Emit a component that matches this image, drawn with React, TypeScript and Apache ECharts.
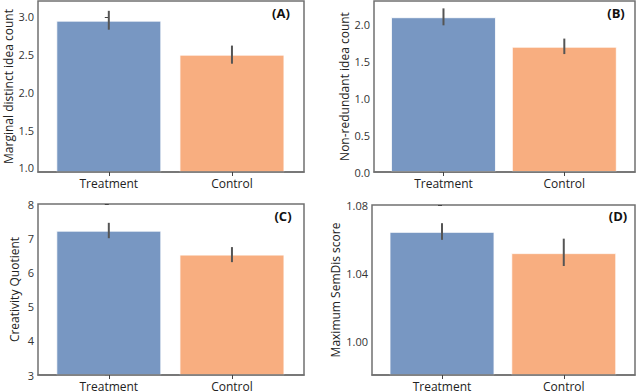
import React, { useEffect, useRef } from "react";
import * as echarts from "echarts";

const categories = ["Treatment", "Control"];

const marginalValues = [2.95, 2.5];
const marginalLow = [2.83, 2.38];
const marginalHigh = [3.08, 2.62];
const marginalTicks = [1.0, 1.5, 2.0, 2.5, 3.0];

const nonRedundantValues = [2.1, 1.7];
const nonRedundantLow = [1.99, 1.6];
const nonRedundantHigh = [2.22, 1.81];
const nonRedundantTicks = [0.0, 0.5, 1.0, 1.5, 2.0];

const cqValues = [7.22, 6.52];
const cqLow = [7.0, 6.3];
const cqHigh = [7.45, 6.74];
const cqTicks = [3, 4, 5, 6, 7, 8];

const semdisValues = [1.0642, 1.0517];
const semdisLow = [1.0595, 1.0441];
const semdisHigh = [1.0693, 1.0602];
const semdisTicks = [1.0, 1.04, 1.08];

const panelLabels = ["(A)", "(B)", "(C)", "(D)"];
const yTitles = [
  "Marginal distinct idea count",
  "Non-redundant idea count",
  "Creativity Quotient",
  "Maximum SemDis score",
];

const barColors = ["#7897c2", "#f8ae80"];
const FONT = "Open Sans";

export default function App() {
  const ref = useRef<HTMLDivElement>(null);
  useEffect(() => {
    if (!ref.current) return;
    const chart = echarts.init(ref.current, null, { renderer: "svg" });

    const panels = [
      { vals: marginalValues, low: marginalLow, high: marginalHigh, ticks: marginalTicks, min: 0.947, max: 3.21, dec: 1 },
      { vals: nonRedundantValues, low: nonRedundantLow, high: nonRedundantHigh, ticks: nonRedundantTicks, min: 0, max: 2.32, dec: 1 },
      { vals: cqValues, low: cqLow, high: cqHigh, ticks: cqTicks, min: 3, max: 8, dec: 0 },
      { vals: semdisValues, low: semdisLow, high: semdisHigh, ticks: semdisTicks, min: 0.98, max: 1.08, dec: 2 },
    ];

    const grids = [
      { left: 38, top: 1, width: 266, height: 171 },
      { left: 374, top: 1, width: 261, height: 171 },
      { left: 38, top: 204, width: 266, height: 172 },
      { left: 372, top: 205, width: 263, height: 171 },
    ];
    const nameGaps = [24, 24, 18, 31];
    const barWidths = [105, 105, 105, 105];

    const option: any = {
      animation: false,
      backgroundColor: "#ffffff",
      textStyle: { fontFamily: FONT },
      grid: grids.map((g) => ({
        ...g,
        show: true,
        borderColor: "#707070",
        borderWidth: 1.5,
        backgroundColor: "transparent",
      })),
      xAxis: panels.map((p, i) => ({
        type: "value",
        gridIndex: i,
        min: -0.575,
        max: 1.585,
        z: 10,
        splitLine: { show: false },
        axisLine: { show: true, onZero: false, lineStyle: { color: "#707070", width: 1.5 } },
        axisTick: { show: true, customValues: [0, 1], length: 4, lineStyle: { color: "#444", width: 1 } },
        axisLabel: {
          customValues: [0, 1],
          formatter: (v: number) => categories[Math.round(v)] ?? "",
          fontFamily: FONT,
          fontSize: 12,
          color: "#222",
          margin: 5,
        },
      })),
      yAxis: panels.map((p, i) => ({
        type: "value",
        gridIndex: i,
        min: p.min,
        max: p.max,
        name: yTitles[i],
        nameLocation: "middle",
        nameGap: nameGaps[i],
        nameTextStyle: { fontFamily: FONT, fontSize: 12, color: "#222" },
        splitLine: { show: false },
        axisLine: { show: false },
        axisTick: { show: true, customValues: p.ticks, length: 4, lineStyle: { color: "#444", width: 1 } },
        axisLabel: {
          customValues: p.ticks,
          formatter: (v: number) => v.toFixed(p.dec),
          fontFamily: FONT,
          fontSize: 11,
          color: "#333",
          margin: 4,
        },
      })),
      series: [
        ...panels.map((p, i) => ({
          type: "bar",
          xAxisIndex: i,
          yAxisIndex: i,
          barWidth: barWidths[i],
          data: p.vals.map((v, j) => ({
            value: [j, v],
            itemStyle: { color: barColors[j], borderColor: "rgba(255,255,255,0.8)", borderWidth: 1 },
          })),
        })),
        ...panels.map((p, i) => ({
          type: "custom",
          xAxisIndex: i,
          yAxisIndex: i,
          z: 5,
          data: p.vals.map((v, j) => [j, p.low[j], p.high[j]]),
          renderItem: (params: any, api: any) => {
            const x = api.value(0);
            const a = api.coord([x, api.value(1)]);
            const b = api.coord([x, api.value(2)]);
            return {
              type: "line",
              shape: { x1: a[0], y1: a[1], x2: b[0], y2: b[1] },
              style: { stroke: "#555555", lineWidth: 2 },
            };
          },
        })),
      ],
      graphic: [
        { type: "text", x: 281, y: 13, style: { text: panelLabels[0], font: `bold 13px ${FONT}`, fill: "#111", align: "center", verticalAlign: "middle" } },
        { type: "text", x: 616, y: 13, style: { text: panelLabels[1], font: `bold 13px ${FONT}`, fill: "#111", align: "center", verticalAlign: "middle" } },
        { type: "text", x: 283, y: 216, style: { text: panelLabels[2], font: `bold 13px ${FONT}`, fill: "#111", align: "center", verticalAlign: "middle" } },
        { type: "text", x: 618, y: 216, style: { text: panelLabels[3], font: `bold 13px ${FONT}`, fill: "#111", align: "center", verticalAlign: "middle" } },
      ],
    };

    chart.setOption(option);
    return () => chart.dispose();
  }, []);

  return <div ref={ref} style={{ width: 640, height: 392, position: "fixed", left: 0, top: 0 }} />;
}
